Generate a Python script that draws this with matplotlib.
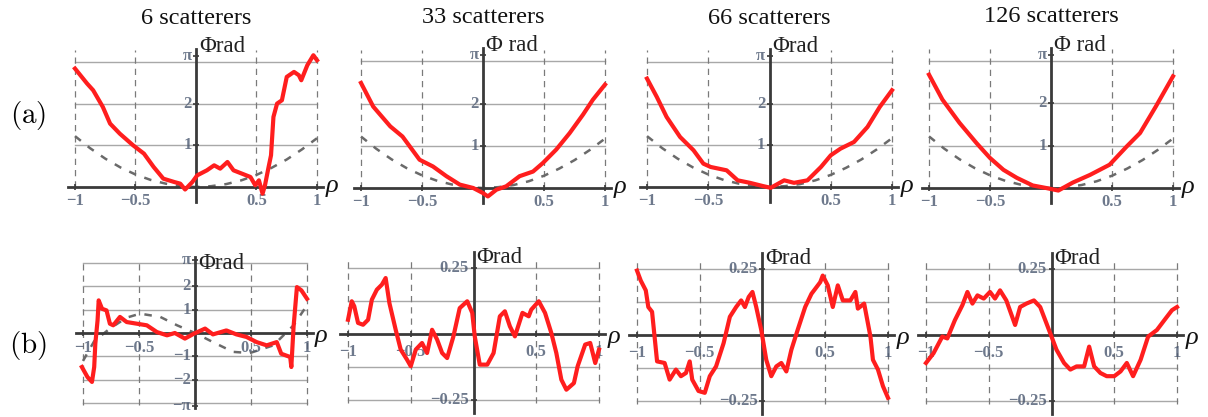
import numpy as np
import matplotlib
matplotlib.use('Agg')
import matplotlib.pyplot as plt

plt.rcParams['mathtext.fontset'] = 'cm'
SERIF = 'Liberation Serif'

W, H = 1208, 417
titles = ['6 scatterers', '33 scatterers', '66 scatterers', '126 scatterers']

# ---- row (a): phase vs rho, 0 .. pi ----
a1_rho = [-1.0, -0.90, -0.85, -0.77, -0.71, -0.63, -0.52, -0.43, -0.35, -0.27, -0.18, -0.13, -0.09,
          -0.03, 0.01, 0.09, 0.15, 0.20, 0.26, 0.31, 0.38, 0.45, 0.49, 0.52, 0.55, 0.57, 0.60, 0.62,
          0.64, 0.67, 0.71, 0.75, 0.81, 0.85, 0.87, 0.92, 0.97, 1.0]
a1_phi = [2.84, 2.48, 2.32, 1.92, 1.52, 1.28, 1.0, 0.8, 0.48, 0.2, 0.12, 0.08, -0.06,
          0.12, 0.28, 0.4, 0.52, 0.44, 0.6, 0.4, 0.32, 0.24, 0.04, 0.16, -0.16, 0.04, 0.48, 0.76,
          1.68, 2.0, 2.08, 2.64, 2.76, 2.68, 2.56, 2.92, 3.16, 3.04]
a2_rho = [-1.0, -0.9, -0.76, -0.66, -0.52, -0.41, -0.30, -0.19, -0.08, 0.0, 0.04, 0.11, 0.19,
          0.30, 0.41, 0.49, 0.60, 0.71, 0.82, 0.90, 1.0]
a2_phi = [2.49, 1.93, 1.46, 1.22, 0.67, 0.51, 0.28, 0.08, 0.0, -0.12, -0.2, -0.04, 0.04,
          0.28, 0.39, 0.59, 0.91, 1.30, 1.74, 2.09, 2.45]
a3_rho = [-1.0, -0.92, -0.84, -0.73, -0.62, -0.54, -0.48, -0.35, -0.26, -0.16, -0.05, 0.01, 0.12,
          0.20, 0.31, 0.42, 0.50, 0.58, 0.69, 0.80, 0.90, 1.0]
a3_phi = [2.6, 2.16, 1.68, 1.2, 0.88, 0.56, 0.48, 0.4, 0.16, 0.1, 0.02, -0.02, 0.16,
          0.1, 0.16, 0.48, 0.76, 0.92, 1.08, 1.44, 1.92, 2.32]
a4_rho = [-1.0, -0.89, -0.75, -0.61, -0.50, -0.39, -0.28, -0.15, -0.04, 0.06, 0.18, 0.32, 0.48,
          0.62, 0.73, 0.86, 1.0]
a4_phi = [2.68, 2.09, 1.54, 1.06, 0.71, 0.43, 0.24, 0.06, 0.0, -0.06, 0.13, 0.31, 0.55,
          0.98, 1.30, 1.93, 2.64]
a_dash_rho = [-1.0, -0.875, -0.75, -0.625, -0.5, -0.375, -0.25, -0.125, 0.0,
              0.125, 0.25, 0.375, 0.5, 0.625, 0.75, 0.875, 1.0]
a_dash_phi = [1.22, 0.93, 0.68, 0.47, 0.30, 0.17, 0.08, 0.02, 0.0,
              0.02, 0.07, 0.16, 0.29, 0.46, 0.66, 0.90, 1.17]

# ---- row (b): residual phase ----
b1_rho = [-1.01, -0.96, -0.92, -0.90, -0.89, -0.87, -0.86, -0.83, -0.79, -0.76, -0.73, -0.67,
          -0.61, -0.52, -0.43, -0.34, -0.25, -0.18, -0.09, -0.01, 0.09, 0.16, 0.28, 0.37, 0.46,
          0.55, 0.64, 0.73, 0.77, 0.85, 0.86, 0.88, 0.91, 0.95, 1.0]
b1_phi = [-1.46, -1.89, -2.1, -1.46, -0.46, 0.54, 1.4, 1.04, 0.97, 0.4, 0.33, 0.69,
          0.47, 0.4, 0.33, 0.04, -0.1, 0.0, -0.24, -0.03, 0.19, -0.06, 0.11, -0.06, -0.17,
          -0.39, -0.53, -0.39, -0.89, -1.03, -1.46, 0.26, 1.97, 1.83, 1.47]
b1_dash_rho = [-1.0, -0.9, -0.76, -0.61, -0.49, -0.31, -0.16, 0.0, 0.16, 0.34, 0.49, 0.70, 0.88, 1.0]
b1_dash_phi = [-1.2, -0.35, 0.19, 0.66, 0.83, 0.69, 0.33, 0.0, -0.39, -0.81, -0.86, -0.53, 0.33, 1.19]
b2_rho = [-1.0, -0.97, -0.95, -0.92, -0.88, -0.84, -0.81, -0.77, -0.73, -0.70, -0.67, -0.62,
          -0.58, -0.53, -0.50, -0.46, -0.41, -0.37, -0.33, -0.29, -0.25, -0.21, -0.16, -0.11,
          -0.05, -0.01, 0.01, 0.05, 0.11, 0.16, 0.21, 0.25, 0.29, 0.33, 0.39, 0.44, 0.46, 0.52,
          0.57, 0.62, 0.66, 0.70, 0.74, 0.80, 0.83, 0.89, 0.93, 0.97, 1.0]
b2_phi = [0.054, 0.124, 0.105, 0.042, 0.035, 0.054, 0.130, 0.168, 0.187, 0.212, 0.117, 0.016,
          -0.059, -0.097, -0.122, -0.059, -0.034, -0.072, 0.016, -0.021, -0.072, -0.091, -0.009, 0.098,
          0.124, 0.080, -0.009, -0.116, -0.116, -0.072, 0.067, 0.086, 0.029, -0.009, 0.080, 0.067, 0.092, 0.124,
          0.080, 0.004, -0.072, -0.173, -0.211, -0.186, -0.122, -0.040, -0.034, -0.110, -0.059]
b3_rho = [-1.0, -0.97, -0.93, -0.91, -0.88, -0.86, -0.84, -0.78, -0.74, -0.69, -0.65, -0.61,
          -0.58, -0.56, -0.51, -0.46, -0.42, -0.37, -0.31, -0.26, -0.21, -0.17, -0.14, -0.11,
          -0.08, -0.05, -0.01, 0.03, 0.07, 0.11, 0.15, 0.19, 0.23, 0.28, 0.34, 0.39, 0.46, 0.48,
          0.52, 0.56, 0.60, 0.64, 0.70, 0.74, 0.76, 0.81, 0.86, 0.88, 0.92, 0.96, 1.0]
b3_phi = [0.244, 0.206, 0.169, 0.106, 0.088, -0.006, -0.100, -0.106, -0.169, -0.131, -0.156, -0.144,
          -0.100, -0.169, -0.212, -0.219, -0.156, -0.119, -0.031, 0.069, 0.106, 0.131, 0.106, 0.144,
          0.163, 0.106, 0.019, -0.094, -0.156, -0.119, -0.106, -0.138, -0.056, 0.019, 0.106, 0.156, 0.200, 0.225,
          0.188, 0.106, 0.188, 0.131, 0.131, 0.163, 0.100, 0.119, -0.006, -0.094, -0.131, -0.194, -0.238]
b4_rho = [-1.0, -0.94, -0.87, -0.83, -0.77, -0.71, -0.67, -0.63, -0.59, -0.54, -0.49, -0.45,
          -0.41, -0.36, -0.29, -0.25, -0.20, -0.14, -0.09, -0.04, 0.0, 0.04, 0.10, 0.15, 0.20,
          0.26, 0.30, 0.34, 0.39, 0.44, 0.50, 0.55, 0.60, 0.65, 0.71, 0.77, 0.84, 0.91, 0.96, 1.0]
b4_phi = [-0.106, -0.069, -0.006, -0.013, 0.056, 0.113, 0.163, 0.119, 0.150, 0.138, 0.163, 0.138,
          0.169, 0.131, 0.038, 0.106, 0.119, 0.131, 0.106, 0.044, -0.006, -0.056, -0.106, -0.131, -0.119,
          -0.119, -0.044, -0.119, -0.144, -0.156, -0.156, -0.138, -0.106, -0.156, -0.094, -0.006, 0.019, 0.063, 0.094, 0.106]

x_ticks = [-1, -0.5, 0.5, 1]
x_ticklabels = ['\u22121', '\u22120.5', '0.5', '1']
a_yticks = [1, 2, np.pi]
a_yticklabels = ['1', '2', '\u03c0']
a_grid = [1, 2, 3]
b1_yticks = [-np.pi, -2, -1, 1, 2, np.pi]
b1_yticklabels = ['\u2212\u03c0', '\u22122', '\u22121', '1', '2', '\u03c0']
b1_grid = [-3, -2, -1, 1, 2, 3]
b_yticks = [-0.25, 0.25]
b_yticklabels = ['\u22120.25', '0.25']
b_grid = [-0.25, -0.125, 0.125, 0.25]

RED = '#ff1e1e'
AXC = '#3a3a3a'
GRIDC = '#a8a8a8'
TICKC = '#4a5870'

fig = plt.figure(figsize=(W / 100, H / 100), dpi=100)


def panel(xm1, xp1, y0, sy, xlim, ylim):
    # place an axes so that rho=-1/1 and phi=0 land on given pixels
    sx = (xp1 - xm1) / 2
    left = xm1 + (xlim[0] + 1) * sx
    right = xm1 + (xlim[1] + 1) * sx
    top = y0 - ylim[1] * sy
    bottom = y0 - ylim[0] * sy
    ax = fig.add_axes([left / W, 1 - bottom / H, (right - left) / W, (bottom - top) / H])
    ax.set_xlim(xlim)
    ax.set_ylim(ylim)
    ax.axis('off')
    return ax


def frame(ax, grid, vtop, vbot, ybot, ytop, yticks, ylabels, xlab_y, ylab_dx, phi_xy, phi_txt, rho_y):
    for g in grid:
        ax.plot([-1, 1], [g, g], color=GRIDC, lw=1.0, zorder=1)
    for xv in x_ticks:
        ax.plot([xv, xv], [vbot, vtop], color='#7a7a7a', lw=0.9, dashes=(5, 4), zorder=1)
    ax.plot([-1.06, 1.05], [0, 0], color=AXC, lw=2.0, zorder=4)
    ax.plot([0, 0], [ybot, ytop], color=AXC, lw=2.0, zorder=4)
    ax.plot(x_ticks, [0] * len(x_ticks), ls='none', marker='|', ms=5, mew=1.2, color=AXC, zorder=4)
    ax.plot([0] * len(yticks), yticks, ls='none', marker='_', ms=5, mew=1.2, color=AXC, zorder=4)
    for xv, lab in zip(x_ticks, x_ticklabels):
        ax.text(xv, xlab_y, lab, ha='center', va='center', fontsize=12, family=SERIF,
                color=TICKC, fontweight='bold', alpha=0.8)
    for yv, lab in zip(yticks, ylabels):
        ax.text(-ylab_dx, yv, lab, ha='right', va='center', fontsize=12, family=SERIF,
                color=TICKC, fontweight='bold', alpha=0.8)
    ax.text(phi_xy[0], phi_xy[1], phi_txt, ha='left', va='center', fontsize=16.5, family=SERIF, color='#222222')
    ax.text(1.07, rho_y, '\u03c1', ha='left', va='center', fontsize=19, family=SERIF,
            style='italic', color='#111111')


# top row geometry: pixel of rho=-1, rho=1, phi=0, pixels per rad
top_geom = [(75, 317, 187, 41.7), (361, 605, 188, 42.2), (647, 892, 187, 41.7), (929, 1173, 188, 42.3)]
top_data = [(a1_rho, a1_phi), (a2_rho, a2_phi), (a3_rho, a3_phi), (a4_rho, a4_phi)]
phi_labels_top = ['\u03a6rad', '\u03a6 rad', '\u03a6rad', '\u03a6 rad']

for i, ((xm1, xp1, y0, sy), (r, p)) in enumerate(zip(top_geom, top_data)):
    ax = panel(xm1, xp1, y0, sy, (-1.2, 1.3), (-0.6, 4.4))
    frame(ax, a_grid, 3.28, 0, -0.36, 3.32, a_yticks, a_yticklabels, -0.33, 0.035,
          (0.025, 3.38), phi_labels_top[i], 0.02)
    ax.plot(a_dash_rho, a_dash_phi, color='#6a6a6a', lw=1.8, dashes=(3, 3.5), zorder=2)
    ax.plot(r, p, color=RED, lw=3.0, solid_joinstyle='round', zorder=5)
    ax.text(0, 4.05, titles[i], ha='center', va='center', fontsize=17.5, family=SERIF, color='#111111')

# bottom row
ax = panel(83, 307, 333, 23.3, (-1.2, 1.3), (-3.6, 3.6))
frame(ax, b1_grid, 3.12, -3.08, -3.2, 3.28, b1_yticks, b1_yticklabels, -0.66, 0.04,
      (0.03, 2.97), '\u03a6rad', -0.15)
ax.plot(b1_dash_rho, b1_dash_phi, color='#6a6a6a', lw=1.8, dashes=(3, 3.5), zorder=2)
ax.plot(b1_rho, b1_phi, color=RED, lw=3.0, solid_joinstyle='round', zorder=5)

bot_geom = [(348, 599, 334, 264.0), (637, 888, 335, 264.0), (926, 1177, 335, 264.0)]
bot_data = [(b2_rho, b2_phi), (b3_rho, b3_phi), (b4_rho, b4_phi)]
for (xm1, xp1, y0, sy), (r, p) in zip(bot_geom, bot_data):
    ax = panel(xm1, xp1, y0, sy, (-1.2, 1.3), (-0.33, 0.34))
    frame(ax, b_grid, 0.28, -0.26, -0.30, 0.31, b_yticks, b_yticklabels, -0.07, 0.04,
          (0.02, 0.29), '\u03a6rad', -0.01)
    ax.plot(r, p, color=RED, lw=3.0, solid_joinstyle='round', zorder=5)

fig.text(28 / W, 1 - 115 / H, r'$\mathrm{(a)}$', ha='center', va='center', fontsize=21)
fig.text(28 / W, 1 - 345 / H, r'$\mathrm{(b)}$', ha='center', va='center', fontsize=21)

fig.savefig('out.png', dpi=100, facecolor='white')
